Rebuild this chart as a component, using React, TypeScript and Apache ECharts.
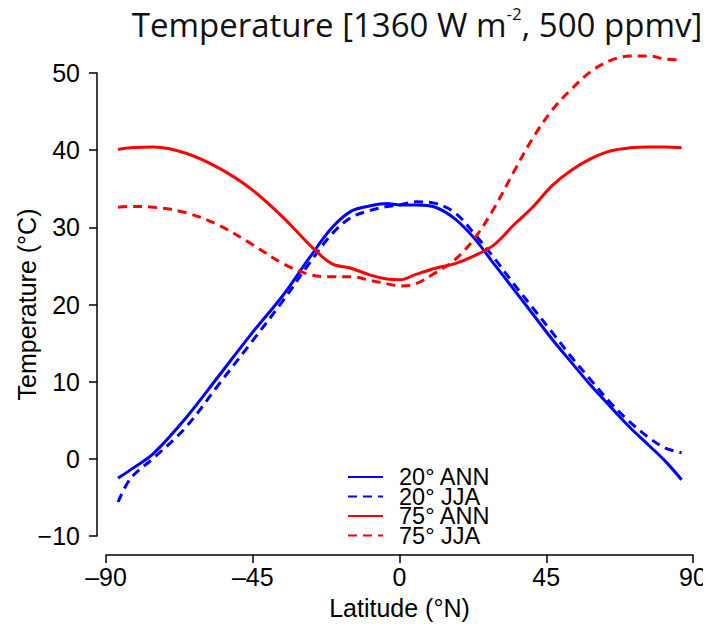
import React, { useEffect, useRef } from "react";
import * as echarts from "echarts";

const latitudes = [-86.3, -82.4, -75.4, -65.5, -55.5, -45.6, -35.7, -27.7, -20.8, -14.8, -8.9, -3.9, 0.1, 5.0, 11.0, 17.0, 22.9, 28.9, 34.8, 40.8, 46.8, 52.7, 58.7, 64.6, 70.6, 76.6, 81.5, 86.5];

const ann20 = [-2.5, -1.4, 0.7, 5.3, 10.7, 16.1, 21.2, 26.0, 29.9, 32.1, 32.8, 33.1, 32.9, 32.9, 32.6, 31.1, 28.6, 25.3, 22.1, 18.8, 15.5, 12.5, 9.5, 6.8, 4.1, 1.7, -0.3, -2.7];
const jja20 = [-5.6, -2.5, 0.1, 4.1, 9.6, 15.0, 20.5, 25.3, 29.1, 31.3, 32.2, 32.7, 32.9, 33.3, 33.1, 31.9, 29.2, 26.1, 22.8, 19.6, 16.4, 13.2, 10.2, 7.3, 4.8, 2.7, 1.4, 0.8];
const ann75 = [40.1, 40.3, 40.4, 39.6, 37.7, 35.0, 31.3, 27.8, 25.3, 24.7, 23.8, 23.3, 23.2, 23.9, 24.7, 25.3, 26.3, 27.7, 30.2, 32.6, 35.4, 37.4, 38.9, 39.9, 40.3, 40.4, 40.4, 40.3];
const jja75 = [32.6, 32.7, 32.6, 31.9, 30.3, 27.9, 25.3, 23.9, 23.6, 23.6, 23.1, 22.7, 22.4, 22.7, 24.1, 25.8, 28.5, 32.4, 37.0, 41.5, 45.2, 47.9, 50.2, 51.6, 52.2, 52.2, 51.8, 51.7];

const seriesNames = ["20° ANN", "20° JJA", "75° ANN", "75° JJA"];
const xTicks = [-90, -45, 0, 45, 90];
const yTicks = [-10, 0, 10, 20, 30, 40, 50];

const BLUE = "#0000ff";
const RED = "#ff0000";
const FONT = "'Liberation Sans', Arial, Helvetica, sans-serif";

function pairs(ys: number[]) {
  return latitudes.map((x, i) => [x, ys[i]]);
}

export default function App() {
  const ref = useRef<HTMLDivElement>(null);
  useEffect(() => {
    if (!ref.current) return;
    const chart = echarts.init(ref.current, undefined, { renderer: "svg" });
    const mk = (name: string, ys: number[], color: string, dashed: boolean) => ({
      name,
      type: "line",
      data: pairs(ys),
      showSymbol: false,
      symbol: "none",
      smooth: 0.35,
      clip: false,
      lineStyle: { color, width: 3, type: dashed ? [9, 6] : "solid" },
      itemStyle: { color },
    });
    chart.setOption({
      animation: false,
      backgroundColor: "#ffffff",
      title: {
        left: 404,
        top: -8,
        textAlign: "center",
        text: "{a|Temperature [1360 W m}{s|-2}{a|, 500 ppmv]}",
        textStyle: {
          fontWeight: "normal",
          rich: {
            a: { fontFamily: "'Open Sans', sans-serif", fontWeight: "normal", fontSize: 33, lineHeight: 38, color: "#111" },
            s: { fontFamily: "'Open Sans', sans-serif", fontWeight: "normal", fontSize: 17, lineHeight: 26, verticalAlign: "top", color: "#111" },
          },
        },
      },
      grid: { left: 98, right: 18, top: 65, bottom: 98, containLabel: false, outerBoundsMode: "none" },
      legend: {
        orient: "vertical",
        left: 334,
        top: 452,
        itemWidth: 35,
        itemHeight: 16,
        itemGap: -4.5,
        data: seriesNames,
        itemStyle: { opacity: 0, borderWidth: 0 },
        formatter: (name: string) => "{p| }{t|" + name + "}",
        textStyle: {
          fontFamily: FONT,
          fontSize: 23.5,
          lineHeight: 16,
          color: "#000",
          rich: {
            p: { width: 11, fontSize: 12, lineHeight: 16 },
            t: { fontFamily: FONT, fontSize: 23.5, lineHeight: 16, color: "#000" },
          },
        },
      },
      xAxis: {
        type: "value",
        min: -90,
        max: 90,
        interval: 45,
        offset: 19,
        splitLine: { show: false },
        axisLine: { show: true, onZero: false, lineStyle: { color: "#000", width: 1.5 } },
        axisTick: { show: true, length: 8, inside: false, lineStyle: { color: "#000", width: 1.5 } },
        axisLabel: {
          fontFamily: FONT,
          fontSize: 25,
          color: "#000",
          margin: 9,
          formatter: (v: number) => (xTicks.includes(v) ? String(v).replace("-", "\u2013") : ""),
        },
        name: "Latitude (°N)",
        nameLocation: "middle",
        nameGap: 40,
        nameMoveOverlap: false,
        nameTextStyle: { fontFamily: FONT, fontSize: 25, color: "#000" },
      },
      yAxis: {
        type: "value",
        min: -10,
        max: 50,
        interval: 10,
        offset: 9,
        splitLine: { show: false },
        axisLine: { show: true, onZero: false, lineStyle: { color: "#000", width: 1.5 } },
        axisTick: { show: true, length: 8, inside: false, lineStyle: { color: "#000", width: 1.5 } },
        axisLabel: {
          fontFamily: FONT,
          fontSize: 25,
          color: "#000",
          margin: 17,
          formatter: (v: number) => (yTicks.includes(v) ? String(v).replace("-", "\u2212") : ""),
        },
        name: "Temperature (°C)",
        nameLocation: "middle",
        nameRotate: 90,
        nameGap: 58,
        nameMoveOverlap: false,
        nameTextStyle: { fontFamily: FONT, fontSize: 25, color: "#000" },
      },
      series: [
        mk(seriesNames[0], ann20, BLUE, false),
        mk(seriesNames[1], jja20, BLUE, true),
        mk(seriesNames[2], ann75, RED, false),
        mk(seriesNames[3], jja75, RED, true),
      ],
    });
    return () => chart.dispose();
  }, []);
  return <div ref={ref} style={{ width: 703, height: 626 }} />;
}
